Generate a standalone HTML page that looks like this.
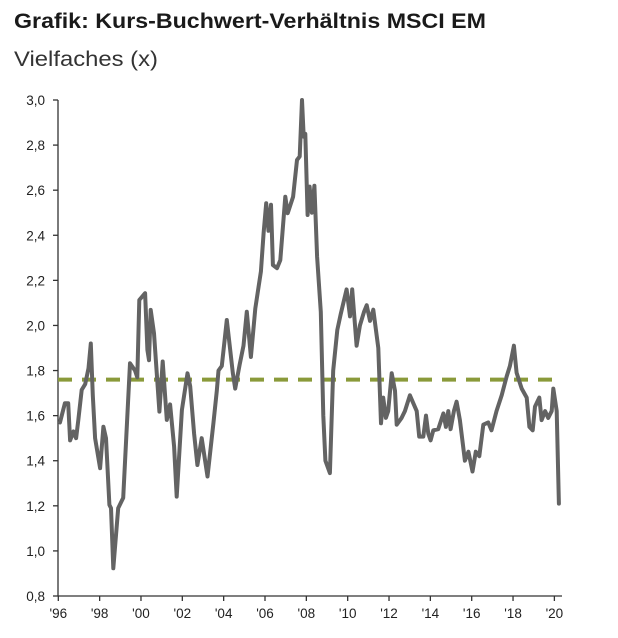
<!DOCTYPE html>
<html><head><meta charset="utf-8"><style>
html,body{margin:0;padding:0;background:#fff;}
svg{display:block;}
</style></head><body>
<svg id="chart" width="618" height="638" viewBox="0 0 618 638" xmlns="http://www.w3.org/2000/svg">
<text x="14" y="28" font-family="Liberation Sans, sans-serif" font-size="21" font-weight="bold" fill="#1a1a1a" textLength="472" lengthAdjust="spacingAndGlyphs">Grafik: Kurs-Buchwert-Verhältnis MSCI EM</text>
<text x="14" y="66" font-family="Liberation Sans, sans-serif" font-size="21" fill="#333" textLength="144" lengthAdjust="spacingAndGlyphs">Vielfaches (x)</text>
<g id="axes"></g>
<g id="plot"></g>
</svg>
<script>
const yearTicks = ["'96","'98","'00","'02","'04","'06","'08","'10","'12","'14","'16","'18","'20"];
const yTickValues = [0.8,1.0,1.2,1.4,1.6,1.8,2.0,2.2,2.4,2.6,2.8,3.0];
const averageValue = 1.76;
const dates = [1996.08,1996.32,1996.48,1996.57,1996.73,1996.86,1996.97,1997.13,1997.3,1997.46,1997.57,1997.67,1997.78,1998.02,1998.18,1998.31,1998.47,1998.55,1998.66,1998.9,1999.14,1999.47,1999.71,1999.82,1999.92,2000.2,2000.31,2000.39,2000.47,2000.63,2000.89,2001.05,2001.25,2001.41,2001.6,2001.73,2001.98,2002.25,2002.38,2002.57,2002.73,2002.94,2003.22,2003.51,2003.67,2003.75,2003.91,2004.15,2004.44,2004.56,2004.77,2004.96,2005.12,2005.32,2005.53,2005.69,2005.8,2005.93,2006.06,2006.17,2006.29,2006.38,2006.58,2006.74,2006.98,2007.1,2007.36,2007.55,2007.68,2007.79,2007.87,2007.95,2008.06,2008.16,2008.27,2008.39,2008.52,2008.7,2008.82,2008.92,2009.14,2009.3,2009.5,2009.66,2009.95,2010.11,2010.22,2010.43,2010.59,2010.79,2010.92,2011.08,2011.24,2011.48,2011.61,2011.72,2011.85,2011.96,2012.13,2012.29,2012.37,2012.61,2012.77,2013.01,2013.34,2013.46,2013.66,2013.79,2013.9,2014.01,2014.14,2014.38,2014.63,2014.75,2014.87,2014.98,2015.14,2015.27,2015.43,2015.67,2015.84,2016.04,2016.2,2016.37,2016.56,2016.8,2016.96,2017.2,2017.45,2017.69,2017.85,2018.04,2018.17,2018.42,2018.66,2018.79,2018.95,2019.06,2019.27,2019.38,2019.55,2019.7,2019.87,2019.95,2020.11,2020.22];
const pbValues = [1.57,1.655,1.655,1.49,1.53,1.50,1.58,1.714,1.74,1.81,1.92,1.69,1.50,1.367,1.551,1.50,1.204,1.19,0.923,1.19,1.235,1.832,1.80,1.77,2.113,2.143,1.891,1.846,2.069,1.965,1.618,1.84,1.581,1.65,1.463,1.241,1.625,1.788,1.73,1.52,1.381,1.50,1.33,1.57,1.71,1.80,1.82,2.024,1.79,1.72,1.825,1.91,2.061,1.86,2.075,2.172,2.239,2.409,2.542,2.42,2.535,2.268,2.254,2.29,2.571,2.498,2.571,2.734,2.75,3.0,2.837,2.85,2.49,2.616,2.50,2.62,2.305,2.06,1.60,1.40,1.345,1.80,1.98,2.05,2.16,2.04,2.16,1.91,2.00,2.06,2.09,2.02,2.07,1.90,1.566,1.68,1.59,1.62,1.788,1.71,1.56,1.59,1.62,1.69,1.62,1.507,1.507,1.60,1.52,1.49,1.535,1.54,1.61,1.55,1.62,1.54,1.62,1.662,1.58,1.40,1.44,1.352,1.44,1.42,1.56,1.57,1.535,1.62,1.69,1.773,1.82,1.91,1.79,1.72,1.68,1.55,1.535,1.64,1.68,1.58,1.62,1.59,1.62,1.72,1.62,1.21];

const NS = "http://www.w3.org/2000/svg";
const X0 = 58.3, PX_PER_YEAR = 20.67, Y_TOP = 100, Y_BOT = 596, VMIN = 0.8, VMAX = 3.0;
function xScale(year){ return X0 + (year - 1996) * PX_PER_YEAR; }
function yScale(v){ return Y_BOT - (v - VMIN) / (VMAX - VMIN) * (Y_BOT - Y_TOP); }
function mk(tag, attrs, parent){
  const el = document.createElementNS(NS, tag);
  for (const k in attrs) el.setAttribute(k, attrs[k]);
  parent.appendChild(el);
  return el;
}
const axes = document.getElementById('axes');
const plot = document.getElementById('plot');
const font = "Liberation Sans, sans-serif";

const yAxis = mk('line', {x1:58, y1:Y_TOP, x2:58, y2:Y_BOT, stroke:'#333', 'stroke-width':1.3}, axes);


const xAxis = mk('line', {x1:58, y1:Y_BOT, x2:562, y2:Y_BOT, stroke:'#333', 'stroke-width':1.3}, axes);



yTickValues.forEach(v => {
  const y = yScale(v);
  const t = mk('line', {x1:53, y1:y, x2:58, y2:y, stroke:'#333', 'stroke-width':1.3}, axes);
  
  
  const lab = mk('text', {x:45, y:y+5, 'text-anchor':'end', 'font-family':font, 'font-size':13.5, fill:'#222'}, axes);
  lab.textContent = v.toFixed(1).replace('.', ',');
  
  
});

yearTicks.forEach((lbl, i) => {
  const x = xScale(1996 + i * 2);
  const t = mk('line', {x1:x, y1:Y_BOT, x2:x, y2:Y_BOT+5, stroke:'#333', 'stroke-width':1.3}, axes);
  
  
  const lab = mk('text', {x:x, y:618, 'text-anchor':'middle', 'font-family':font, 'font-size':13.5, fill:'#222'}, axes);
  lab.textContent = lbl;
  
  
});

const avg = mk('line', {x1:58, y1:yScale(averageValue), x2:556, y2:yScale(averageValue), stroke:'#8a9a3a', 'stroke-width':4, 'stroke-dasharray':'14,10'}, plot);



const d = dates.map((yr, i) => (i ? 'L' : 'M') + xScale(yr).toFixed(1) + ',' + yScale(pbValues[i]).toFixed(1)).join(' ');
const line = mk('path', {d:d, fill:'none', stroke:'#636363', 'stroke-width':4, 'stroke-linejoin':'round', 'stroke-linecap':'round'}, plot);


</script>
</body></html>
